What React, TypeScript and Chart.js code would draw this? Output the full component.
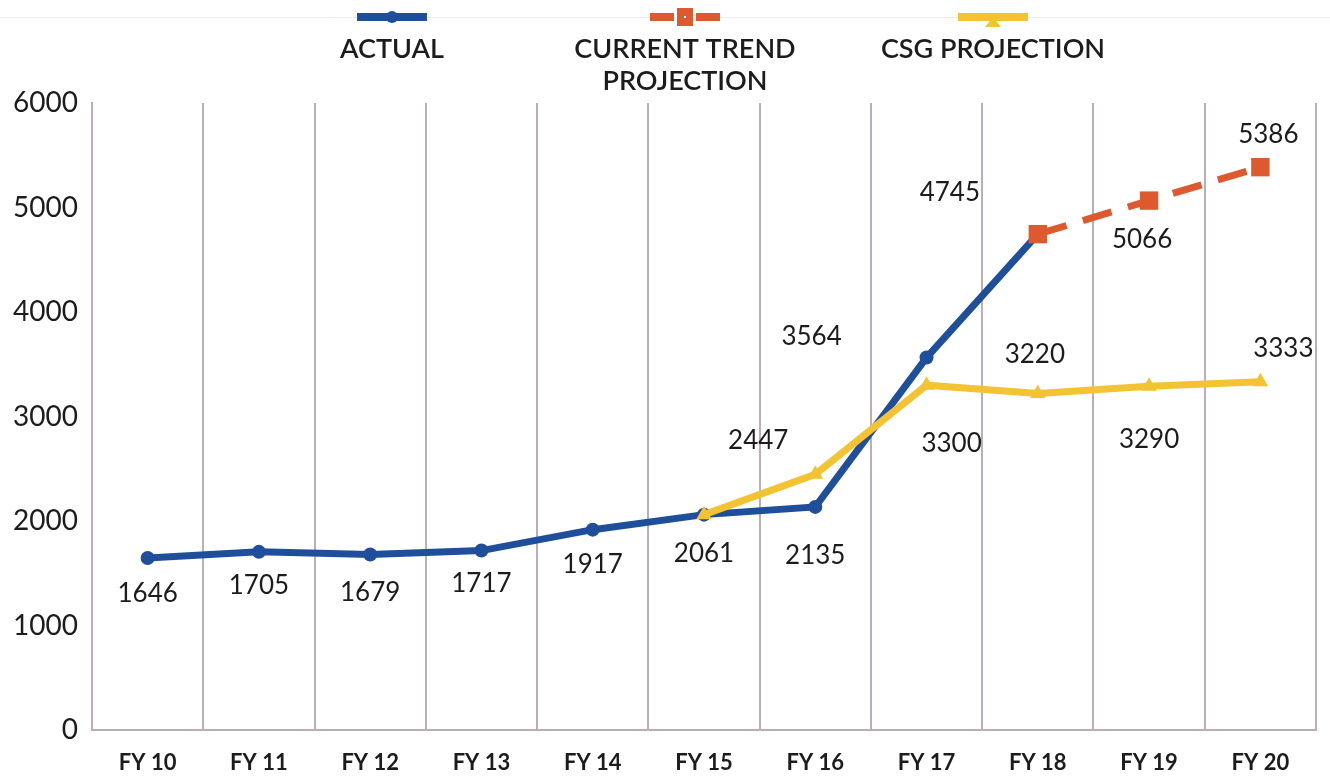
import React, { useEffect, useRef } from "react";
import { Chart, registerables } from "chart.js";

Chart.register(...registerables);

const categories = ["FY 10", "FY 11", "FY 12", "FY 13", "FY 14", "FY 15", "FY 16", "FY 17", "FY 18", "FY 19", "FY 20"];
const actual = [1646, 1705, 1679, 1717, 1917, 2061, 2135, 3564, 4745, null, null];
const currentTrend = [null, null, null, null, null, null, null, null, 4745, 5066, 5386];
const csgProjection = [null, null, null, null, null, 2061, 2447, 3300, 3220, 3290, 3333];
const yTicks = [0, 1000, 2000, 3000, 4000, 5000, 6000];

const BLUE = "#1f4f9b";
const RED = "#dc5a2d";
const YELLOW = "#f3c333";
const GRID = "#bcaeb8";
const TEXT = "#1c1c1c";
const FONT = "Lato, 'DejaVu Sans', sans-serif";

// label offsets (dx, dy) relative to each point, null = no label
const actualLabelOffsets: ([number, number] | null)[] = [
  [0, 36], [0, 34], [0, 38], [0, 33], [0, 35], [0, 39], [0, 49], [-115, -21], [-88, -42], null, null,
];
const trendLabelOffsets: ([number, number] | null)[] = [
  null, null, null, null, null, null, null, null, null, [-7, 39], [8, -33],
];
const csgLabelOffsets: ([number, number] | null)[] = [
  null, null, null, null, null, null, [-57, -34], [25, 58], [-3, -39], [0, 53], [23, -33],
];

const labelPlugin = {
  id: "valueLabels",
  afterDatasetsDraw(chart: any) {
    const ctx = chart.ctx;
    ctx.save();
    ctx.font = `26px ${FONT}`;
    ctx.fillStyle = TEXT;
    ctx.textAlign = "center";
    ctx.textBaseline = "middle";
    chart.data.datasets.forEach((ds: any, i: number) => {
      const meta = chart.getDatasetMeta(i);
      const offs = ds.labelOffsets || [];
      meta.data.forEach((pt: any, j: number) => {
        const v = ds.data[j];
        const o = offs[j];
        if (v == null || !o) return;
        ctx.fillText(String(v), pt.x + o[0], pt.y + o[1]);
      });
    });
    ctx.restore();
  },
};

const legendPlugin = {
  id: "customLegend",
  afterDraw(chart: any) {
    const ctx = chart.ctx;
    ctx.save();
    ctx.strokeStyle = "#ececec";
    ctx.lineWidth = 1;
    ctx.beginPath();
    ctx.moveTo(0, 17.5);
    ctx.lineTo(1330, 17.5);
    ctx.stroke();

    const items = [
      { cx: 392, color: BLUE, style: "circle", lines: ["ACTUAL"] },
      { cx: 685, color: RED, style: "rect", lines: ["CURRENT TREND", "PROJECTION"] },
      { cx: 993, color: YELLOW, style: "triangle", lines: ["CSG PROJECTION"] },
    ];
    items.forEach((it) => {
      const y = 17;
      ctx.fillStyle = it.color;
      if (it.style === "circle") {
        ctx.fillRect(it.cx - 35, y - 4, 70, 8);
        ctx.beginPath();
        ctx.arc(it.cx, y, 6, 0, Math.PI * 2);
        ctx.fill();
      } else if (it.style === "rect") {
        ctx.fillRect(it.cx - 35, y - 4, 24, 8);
        ctx.fillRect(it.cx + 11, y - 4, 24, 8);
        ctx.fillRect(it.cx - 8, y - 9, 16, 18);
        ctx.fillStyle = "#ffffff";
        ctx.fillRect(it.cx - 1, y - 1, 2, 2);
      } else {
        ctx.fillRect(it.cx - 35, y - 4, 70, 8);
        ctx.beginPath();
        ctx.moveTo(it.cx - 8, y + 10);
        ctx.lineTo(it.cx + 8, y + 10);
        ctx.lineTo(it.cx, y);
        ctx.closePath();
        ctx.fill();
      }
      ctx.fillStyle = TEXT;
      ctx.font = `600 27px ${FONT}`;
      ctx.textAlign = "center";
      ctx.textBaseline = "middle";
      it.lines.forEach((t, k) => ctx.fillText(t, it.cx, 49 + k * 32));
    });
    ctx.restore();
  },
};

export default function App() {
  const ref = useRef<HTMLCanvasElement>(null);

  useEffect(() => {
    document.body.style.margin = "0";
    const chart = new Chart(ref.current as HTMLCanvasElement, {
      type: "line",
      data: {
        labels: categories,
        datasets: [
          {
            label: "ACTUAL",
            data: actual,
            borderColor: BLUE,
            backgroundColor: BLUE,
            borderWidth: 7,
            pointStyle: "circle",
            pointRadius: 7,
            pointBorderWidth: 0,
            order: 2,
            labelOffsets: actualLabelOffsets,
          } as any,
          {
            label: "CURRENT TREND PROJECTION",
            data: currentTrend,
            borderColor: RED,
            backgroundColor: RED,
            borderWidth: 7,
            borderDash: [30, 17],
            pointStyle: "rect",
            pointRadius: 13,
            pointBorderWidth: 0,
            order: 1,
            labelOffsets: trendLabelOffsets,
          } as any,
          {
            label: "CSG PROJECTION",
            data: csgProjection,
            borderColor: YELLOW,
            backgroundColor: YELLOW,
            borderWidth: 7,
            pointStyle: "triangle",
            pointRadius: 9,
            pointBorderWidth: 0,
            order: 0,
            labelOffsets: csgLabelOffsets,
          } as any,
        ],
      },
      options: {
        animation: false,
        responsive: false,
        maintainAspectRatio: false,
        layout: { padding: { top: 103, right: 14, left: 0, bottom: 0 } },
        plugins: {
          legend: { display: false },
          tooltip: { enabled: false },
        },
        scales: {
          x: {
            offset: true,
            grid: { offset: true, color: GRID, lineWidth: 2, drawTicks: false },
            border: { color: GRID, width: 2 },
            ticks: {
              color: TEXT,
              font: { family: FONT, size: 22, weight: "bold" },
              padding: 20,
            },
            afterFit(scale: any) {
              scale.height = 46;
            },
          },
          y: {
            min: 0,
            max: 6000,
            afterBuildTicks(scale: any) {
              scale.ticks = yTicks.map((v) => ({ value: v }));
            },
            grid: { display: false, drawTicks: false },
            border: { color: GRID, width: 2 },
            ticks: {
              color: TEXT,
              font: { family: FONT, size: 28 },
              padding: 14,
              callback: (v: any) => String(v),
            },
            afterFit(scale: any) {
              scale.width = 92;
            },
          },
        },
      },
      plugins: [labelPlugin, legendPlugin],
    });
    return () => chart.destroy();
  }, []);

  return (
    <div style={{ width: 1330, height: 776, background: "#fff" }}>
      <canvas ref={ref} width={1330} height={776} style={{ display: "block" }} />
    </div>
  );
}
